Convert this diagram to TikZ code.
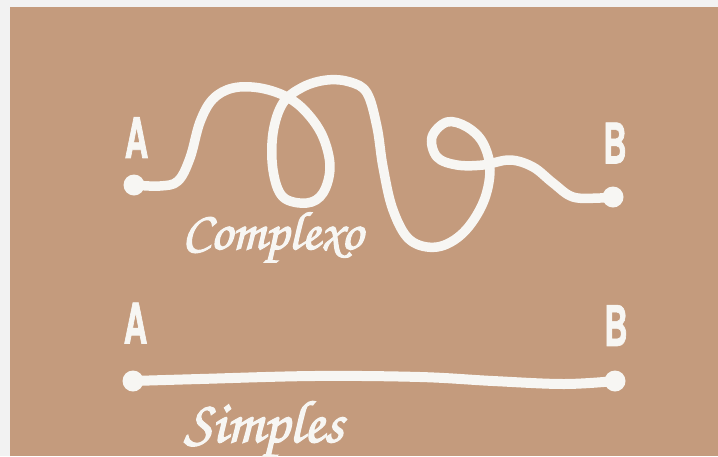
\documentclass[tikz,border=0pt]{standalone}
\usepackage{fontspec}
\usepackage{tikz}
\usetikzlibrary{positioning}
\newfontfamily\letterfont[FakeStretch=0.58, FakeBold=1.2]{TeX Gyre Heros}
\newfontfamily\handfont[FakeBold=2.2]{texgyrechorus-mediumitalic.otf}
\definecolor{cardboard}{RGB}{196,155,125}
\definecolor{framegray}{RGB}{242,242,242}
\definecolor{ropewhite}{RGB}{247,246,243}

\begin{document}
\begin{tikzpicture}[
    x=1pt, y=-1pt,
    letter/.style={inner sep=0pt, text=ropewhite, font={\letterfont\bfseries\fontsize{56}{56}\selectfont}},
    word/.style={inner sep=0pt, anchor=base west, text=ropewhite, font={\handfont\fontsize{54}{54}\selectfont}},
    knob/.style={circle, fill=ropewhite, minimum size=21pt, inner sep=0pt},
    rope/.style={draw=ropewhite, line width=9.5pt, line cap=round, line join=round}
]
\useasboundingbox (0,0) rectangle (718,456);
\fill[framegray] (0,0) rectangle (718,456);
\fill[cardboard] (10,7) rectangle (718,456);

\node[knob] (startC) at (134,185) {};
\node[knob] (endC) at (613,197) {};
\node[knob] (startS) at (133,381) {};
\node[knob] (endS) at (615,381) {};

\node[letter] (aC) at (136.5,137.5) {A};
\node[letter] (bC) at (615,143) {B};
\node[letter] (aS) at (135.5,323) {A};
\node[letter] (bS) at (616,325.5) {B};

\draw[rope] plot[smooth, tension=0.6] coordinates {(startC.center) (160,186) (178,181) (190,158)
    (200,122) (213,99) (233,88) (260,88) (287,97) (307,113) (323,137) (330,167) (323,193)
    (307,203) (283,197) (273,170) (273,133) (283,103) (303,87) (327,80) (350,82) (367,93)
    (377,127) (383,167) (393,210) (410,240) (437,247) (463,233) (483,203) (490,170) (483,143)
    (467,127) (447,122) (432,137) (437,157) (457,165) (483,165) (510,160) (533,167) (553,183)
    (573,197) (600,198) (endC.center)};
\draw[rope, line width=10pt] plot[smooth, tension=0.6] coordinates {(startS.center) (200,379)
    (314,376) (420,377) (493,381) (564,384) (endS.center)};

\node[word] (complexo) at (182,249) {Complexo};
\node[word, font={\handfont\fontsize{60}{60}\selectfont}] (simples) at (184,442) {Simples};
\end{tikzpicture}
\end{document}
